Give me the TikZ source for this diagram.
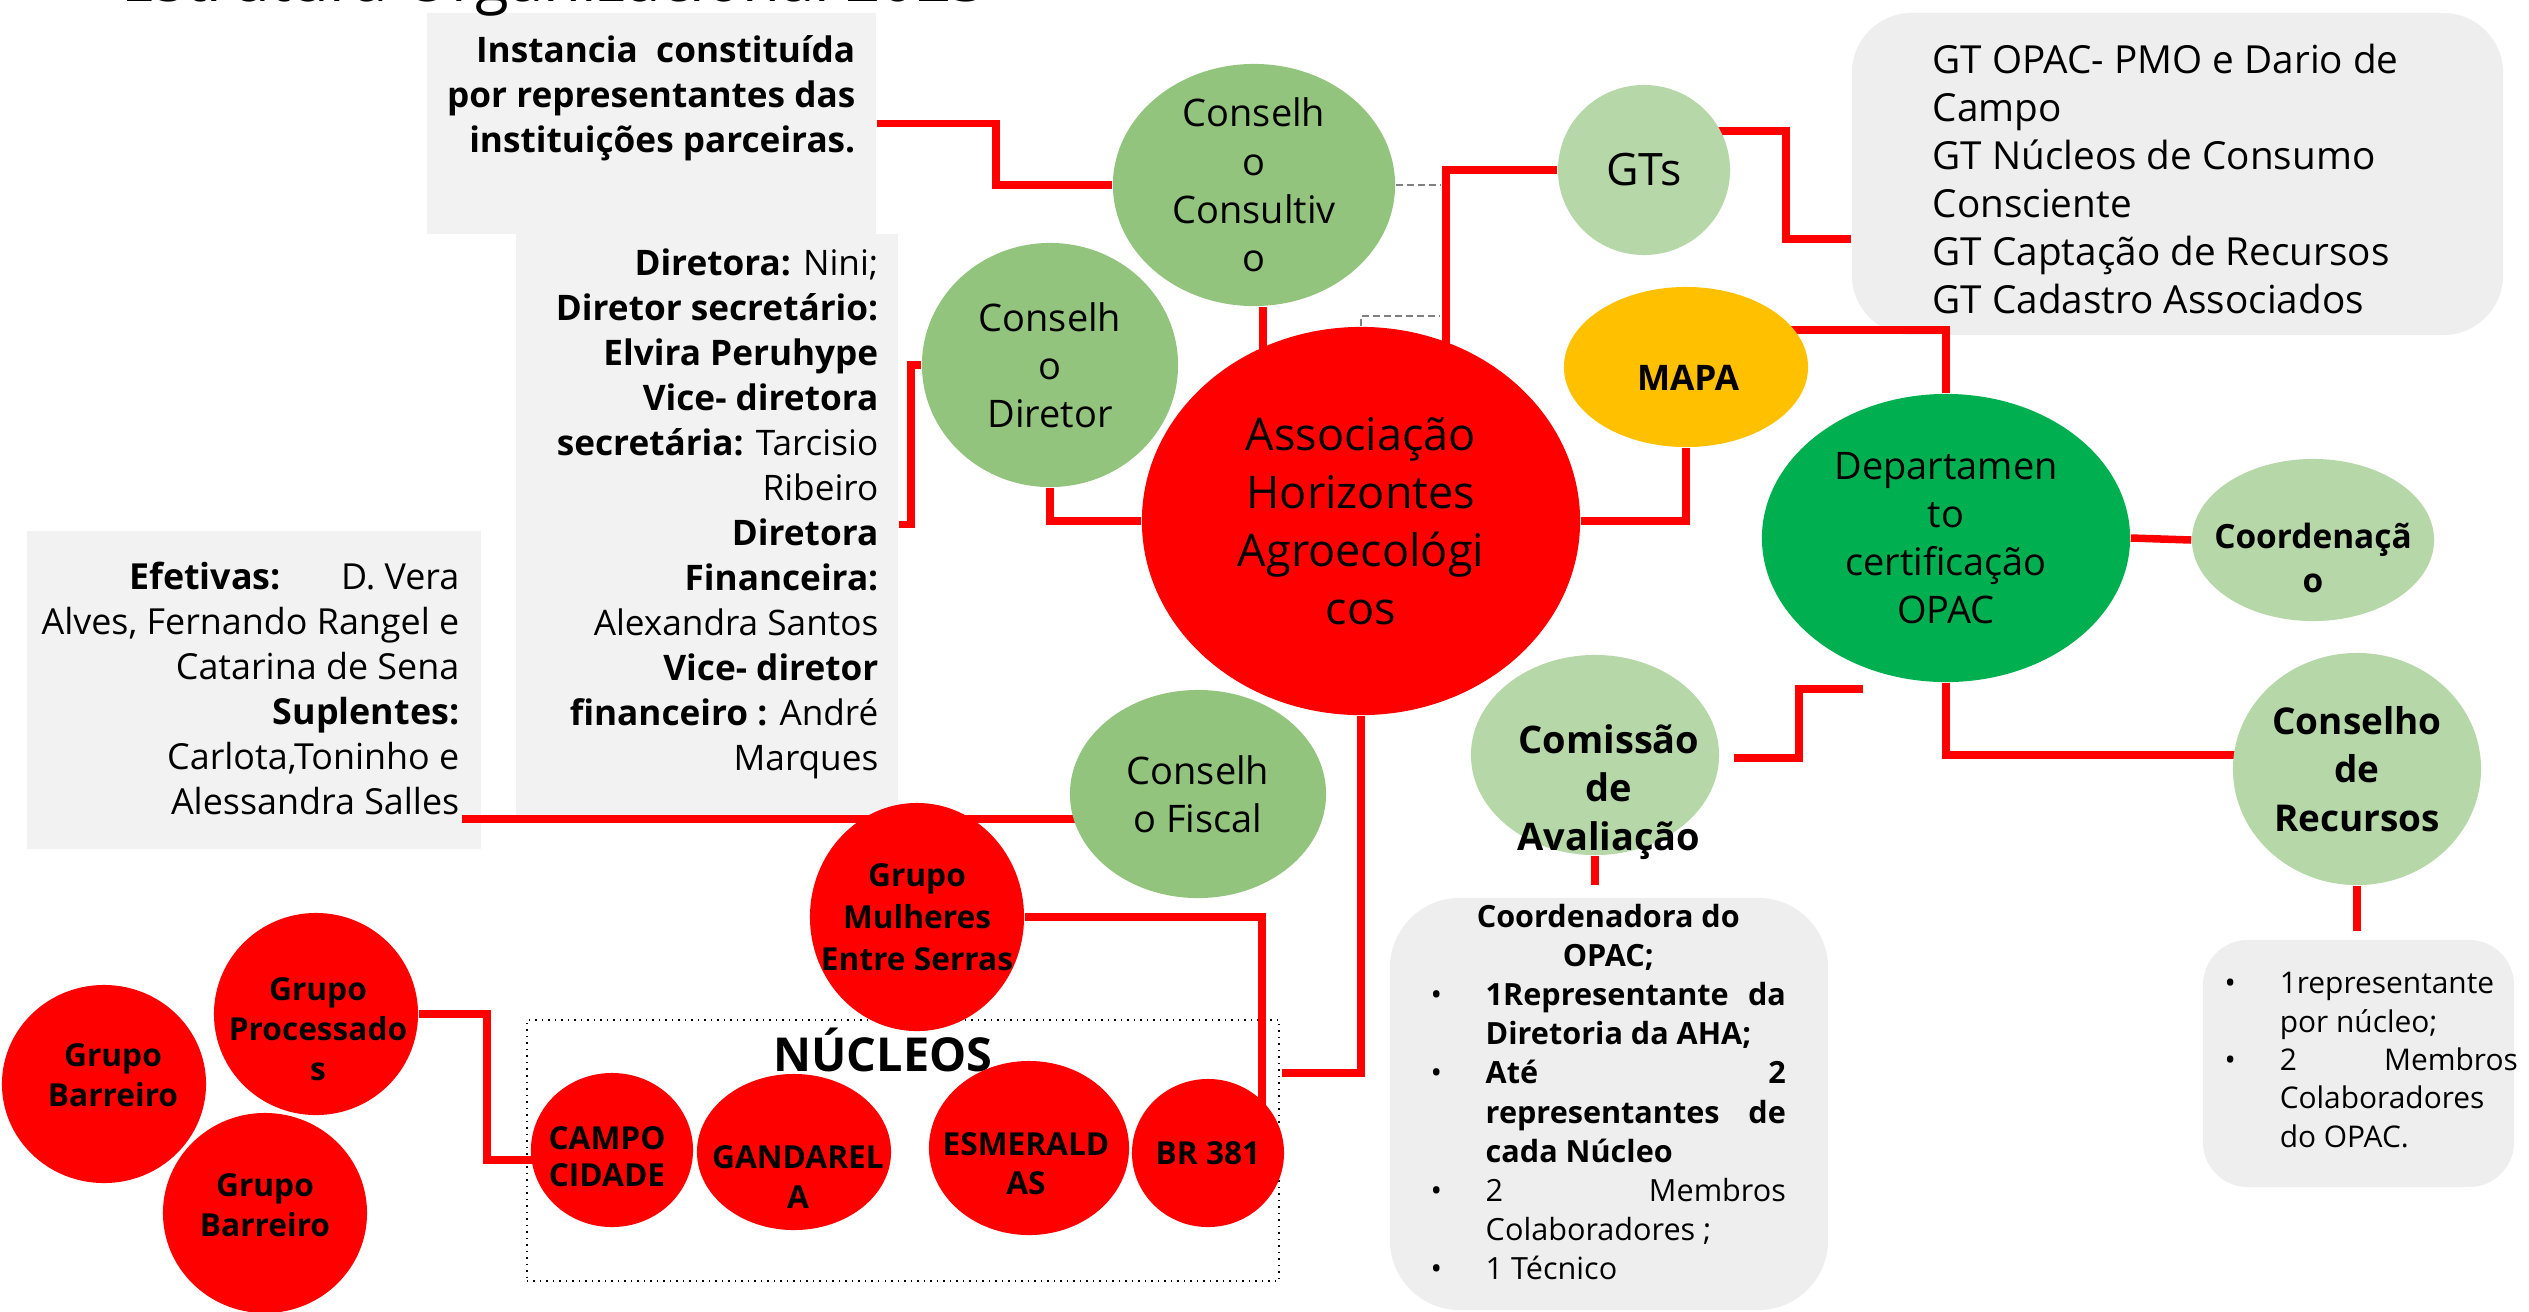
\documentclass[tikz,border=0pt]{standalone}
\usepackage{fontspec}
\setmainfont{Open Sans}
\usetikzlibrary{shapes.geometric, calc, positioning}

\definecolor{cRed}{RGB}{255,0,0}
\definecolor{cMid}{RGB}{147,196,125}
\definecolor{cLight}{RGB}{182,215,168}
\definecolor{cDept}{RGB}{0,176,80}
\definecolor{cMapa}{RGB}{255,192,0}
\definecolor{cBox}{RGB}{242,242,242}
\definecolor{cRound}{RGB}{238,238,238}
\definecolor{cDash}{RGB}{128,128,128}

\pgfdeclarelayer{boxes}
\pgfdeclarelayer{lines}
\pgfsetlayers{boxes,lines,main}

\newcommand{\fsz}[2]{\fontsize{#1}{#2}\selectfont}
\newcommand{\bul}{\makebox[0.55cm][l]{•}}
\newcommand{\indt}{\hspace*{0.55cm}}

\begin{document}
\begin{tikzpicture}[x=0.01cm, y=-0.01cm,
    redline/.style={draw=cRed, line width=0.075cm},
    graydash/.style={draw=cDash, line width=0.02cm, dash pattern=on 0.07cm off 0.04cm},
    bub/.style={ellipse, inner sep=-2cm, align=center},
    bubtxt/.style={inner sep=0pt, align=center},
    boxtxt/.style={inner sep=0pt},
    grayrect/.style={rectangle, fill=cBox, inner sep=0pt},
    roundrect/.style={rectangle, rounded corners=#1, fill=cRound, inner sep=0pt},
    nucbox/.style={rectangle, draw=black, line width=0.015cm, dash pattern=on 0.015cm off 0.05cm, inner sep=0pt}]

    \useasboundingbox (0,0) rectangle (2529,1311);

    \node[anchor=base west, inner sep=0pt, font=\fsz{17.5pt}{20pt}] (title) at (121,1) {Estrutura Organizacional 2023};

    \begin{pgfonlayer}{boxes}
    \node[grayrect, minimum width=4.49cm, minimum height=2.21cm] (instbox) at (651.5,123.5) {};
    \node[grayrect, minimum width=3.82cm, minimum height=5.81cm] (diretoria) at (707,524.5) {};
    \node[grayrect, minimum width=4.54cm, minimum height=3.18cm] (efetivas) at (254,690) {};
    \node[roundrect=0.6cm, minimum width=6.51cm, minimum height=3.22cm] (gtlist) at (2177.5,174) {};
    \node[roundrect=0.7cm, minimum width=4.38cm, minimum height=4.12cm] (comlist) at (1609,1104) {};
    \node[roundrect=0.45cm, minimum width=3.11cm, minimum height=2.47cm] (reclist) at (2358.5,1063.5) {};
    \node[nucbox, minimum width=7.52cm, minimum height=2.61cm] (nucbox) at (903,1150.5) {};
    \end{pgfonlayer}

    \node[boxtxt, anchor=east, align=right, font=\bfseries\fsz{10pt}{12.8pt}] (insttext) at (856,98)
        {Instancia\ \ constituída\\por representantes das\\instituições parceiras.};
    \node[boxtxt, anchor=east, align=right, font=\fsz{10pt}{12.8pt}] (diretext) at (879,514)
        {\textbf{Diretora:} Nini;\\\textbf{Diretor secretário:}\\\textbf{Elvira Peruhype}\\\textbf{Vice- diretora}\\
         \textbf{secretária:} Tarcisio\\Ribeiro\\\textbf{Diretora}\\\textbf{Financeira:}\\Alexandra Santos\\
         \textbf{Vice- diretor}\\\textbf{financeiro :} André\\Marques};
    \node[boxtxt, anchor=east, align=right, font=\fsz{10.2pt}{12.8pt}] (efettext) at (460,688)
        {\textbf{Efetivas:}\hspace{0.6cm}D. Vera\\Alves, Fernando Rangel e\\Catarina de Sena\\
         \textbf{Suplentes:}\\Carlota,Toninho e\\Alessandra Salles};
    \node[boxtxt, anchor=west, align=left, font=\fsz{11pt}{13.7pt}] (gttext) at (1932,179)
        {GT OPAC- PMO e Dario de\\Campo\\GT Núcleos de Consumo\\Consciente\\GT Captação de Recursos\\GT Cadastro Associados};
    \node[boxtxt, anchor=west, align=left, font=\fsz{8.7pt}{11.1pt}] (comtext) at (1430,1092)
        {\makebox[3.55cm]{\textbf{Coordenadora do}}\\\makebox[3.55cm]{\textbf{OPAC;}}\\
         \bul\makebox[3.0cm][s]{\textbf{1Representante\hfill da}}\\\indt\textbf{Diretoria da AHA;}\\
         \bul\makebox[3.0cm][s]{\textbf{Até\hfill 2}}\\\indt\makebox[3.0cm][s]{\textbf{representantes\hfill de}}\\
         \indt\textbf{cada Núcleo}\\\bul\makebox[3.0cm][s]{2\hfill Membros}\\\indt Colaboradores ;\\\bul 1 Técnico};
    \node[boxtxt, anchor=west, align=left, font=\fsz{8.5pt}{10.9pt}] (rectext) at (2224,1060)
        {\bul 1representante\\\indt por núcleo;\\\bul\makebox[2.38cm][s]{2\hfill Membros}\\\indt Colaboradores\\\indt do OPAC.};
    \node[font=\bfseries\fsz{13.3pt}{15pt}] (nuctitle) at (883,1050) {NÚCLEOS};

    \node[bub, fill=cMid, minimum width=2.82cm, minimum height=2.42cm, font=\fsz{10.8pt}{13.7pt}] (cons) at (1254,185) {Conselh\\o\\Consultiv\\o};
    \node[bub, fill=cLight, minimum width=1.72cm, minimum height=1.70cm, font=\fsz{12.7pt}{15pt}] (gts) at (1644,170) {GTs};
    \node[bub, fill=cMid, minimum width=2.56cm, minimum height=2.44cm, font=\fsz{10.8pt}{13.7pt}] (diretor) at (1050,365) {Conselh\\o\\Diretor};
    \node[bub, fill=cRed, minimum width=4.38cm, minimum height=3.88cm, font=\fsz{12.8pt}{16.5pt}] (assoc) at (1361,521) {Associação\\Horizontes\\Agroecológi\\cos};
    \node[bub, fill=cMapa, minimum width=2.44cm, minimum height=1.60cm] (mapa) at (1686,367) {};
    \node[bubtxt, font=\bfseries\fsz{10pt}{12pt}] (mapatxt) at (1688,378) {MAPA};
    \node[bub, fill=cDept, minimum width=3.68cm, minimum height=2.88cm, font=\fsz{10.8pt}{13.7pt}] (dept) at (1946,538) {Departamen\\to\\certificação\\OPAC};
    \node[bub, fill=cLight, minimum width=2.42cm, minimum height=1.62cm] (coord) at (2313,540) {};
    \node[bubtxt, font=\bfseries\fsz{9.5pt}{12.5pt}] (coordtxt) at (2313,558) {Coordenaçã\\o};
    \node[bub, fill=cLight, minimum width=2.48cm, minimum height=2.32cm, font=\bfseries\fsz{10.5pt}{13.7pt}] (recursos) at (2357,769) {Conselho\\de\\Recursos};
    \node[bub, fill=cLight, minimum width=2.48cm, minimum height=2.00cm] (comissao) at (1595,755) {};
    \node[bubtxt, font=\bfseries\fsz{10.8pt}{13.7pt}] (comissaotxt) at (1609,792) {Comissão\\de\\Avaliação};
    \node[bub, fill=cMid, minimum width=2.56cm, minimum height=2.08cm, font=\fsz{10.8pt}{13.7pt}] (fiscal) at (1198,794) {Conselh\\o Fiscal};
    \node[bub, fill=cRed, minimum width=2.14cm, minimum height=2.28cm, font=\bfseries\fsz{9pt}{12pt}] (mulheres) at (917,917) {Grupo\\Mulheres\\Entre Serras};
    \node[bub, fill=cRed, minimum width=2.04cm, minimum height=2.02cm] (proc) at (316,1014) {};
    \node[bubtxt, font=\bfseries\fsz{9pt}{11.4pt}] (proctxt) at (318,1029) {Grupo\\Processado\\s};
    \node[bub, fill=cRed, minimum width=2.04cm, minimum height=1.98cm] (barra) at (104,1084) {};
    \node[bubtxt, font=\bfseries\fsz{9pt}{11.4pt}] (barratxt) at (113,1075) {Grupo\\Barreiro};
    \node[bub, fill=cRed, minimum width=2.04cm, minimum height=2.00cm] (barrb) at (265,1213) {};
    \node[bubtxt, font=\bfseries\fsz{9pt}{11.4pt}] (barrbtxt) at (265,1205) {Grupo\\Barreiro};
    \node[bub, fill=cRed, minimum width=1.62cm, minimum height=1.54cm] (campo) at (612,1150) {};
    \node[bubtxt, font=\bfseries\fsz{9pt}{10.5pt}] (campotxt) at (607,1157) {CAMPO\\CIDADE};
    \node[bub, fill=cRed, minimum width=1.94cm, minimum height=1.56cm] (ganda) at (794,1152) {};
    \node[bubtxt, font=\bfseries\fsz{9pt}{11.4pt}] (gandatxt) at (798,1177) {GANDAREL\\A};
    \node[bub, fill=cRed, minimum width=2.00cm, minimum height=1.74cm] (esme) at (1029,1148) {};
    \node[bubtxt, font=\bfseries\fsz{9pt}{11pt}] (esmetxt) at (1026,1164) {ESMERALD\\AS};
    \node[bub, fill=cRed, minimum width=1.52cm, minimum height=1.48cm, font=\bfseries\fsz{9pt}{11pt}] (br) at (1208,1153) {BR 381};

    \coordinate (gtbend) at (1786,239);
    \coordinate (comout) at (1734,758);
    \coordinate (deptfoot) at (1863,689);
    \coordinate (nucend) at (1282,1073);
    \coordinate (salles) at (462,819);

    \begin{pgfonlayer}{lines}
    \draw[redline] (instbox.east) -- ++(119,0) |- (cons.west);
    \draw[redline] ($(cons.south)+(9,0)$) -- ++(0,60);
    \draw[redline] (gts.west) -| ($(assoc.center)+(85,0)$);
    \draw[redline] ($(gts.center)+(0,-39)$) -| (gtbend) -- (gtbend -| gtlist.west);
    \draw[redline] (mapa.south) |- (assoc.east);
    \draw[redline] ($(mapa.center)+(0,-37)$) -| (dept.north);
    \draw[redline] (dept.east) -- (coord.west);
    \draw[redline] (dept.south) |- ($(recursos.center)+(0,-14)$);
    \draw[redline] (comout) -- ++(65,0) |- (deptfoot);
    \draw[redline, shorten >=0.12cm] (comissao.south) -- (comissao.south |- comlist.north);
    \draw[redline, shorten >=0.08cm] (recursos.south) -- (recursos.south |- reclist.north);
    \draw[redline] (assoc.south) |- (nucend);
    \draw[redline] (mulheres.east) -| ($(br.center)+(54,0)$);
    \draw[redline] (proc.east) -| ($(campo.center)+(-125,10)$) -- ($(campo.center)+(0,10)$);
    \draw[redline] (salles) -- ($(fiscal.center)+(0,25)$);
    \draw[redline] (diretor.west) -| ($(diretoria.east)+(12,0)$) -- (diretoria.east);
    \draw[redline] (diretor.south) |- (assoc.west);
    \draw[graydash] (cons.east) -- ++(45,0);
    \draw[graydash] (assoc.north) |- ++(79,-10);
    \end{pgfonlayer}
\end{tikzpicture}
\end{document}
